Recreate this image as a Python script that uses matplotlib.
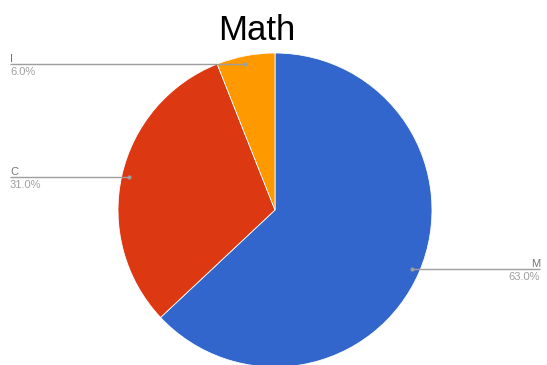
import numpy as np
import matplotlib.pyplot as plt

# Данные
labels = ["M", "C", "I"]
values = [63.0, 31.0, 6.0]
colors = ["#3366CC", "#DC3912", "#FF9900"]

W, H = 547, 365
cx, cy, r = 275, H - 210, 157

fig = plt.figure(figsize=(W / 100, H / 100), dpi=100)
ax = fig.add_axes([0, 0, 1, 1])

wedges, _ = ax.pie(values, colors=colors, startangle=90, counterclock=False,
                   center=(cx, cy), radius=r, frame=True,
                   wedgeprops=dict(edgecolor="white", linewidth=0.6))
ax.set_xlim(0, W)
ax.set_ylim(0, H)
ax.set_aspect("equal")
ax.set_axis_off()

font = "Liberation Sans"
ax.text(257, H - 40, "Math", fontsize=25, family=font, ha="center", va="baseline")

# Подписи с выносками
top_limit = H - 64
rr = 0.95 * r
total = sum(values)
for w, lab, v in zip(wedges, labels, values):
    th = np.deg2rad((w.theta1 + w.theta2) / 2)
    px, py = cx + rr * np.cos(th), cy + rr * np.sin(th)
    if py > top_limit:
        # прижимаем подпись к верху, точку ставим на той же окружности
        py = top_limit
        dx = np.sqrt(rr ** 2 - (py - cy) ** 2)
        px = cx + np.sign(np.cos(th)) * dx
    pct = f"{100 * v / total:.1f}%"
    if px < cx:
        x0, x1, tx, ha = 10, px, 10, "left"
    else:
        x0, x1, tx, ha = px, 540, 540, "right"
    ax.plot([x0, x1], [py, py], color="#9e9e9e", lw=1, solid_capstyle="butt")
    ax.plot(px, py, "o", ms=3, color="#9e9e9e", mec="none")
    ax.text(tx, py + 2.5, lab, fontsize=8, family=font, color="#757575",
            ha=ha, va="baseline")
    ax.text(tx, py - 3, pct, fontsize=8, family=font, color="#a0a0a0",
            ha=ha, va="top")

fig.savefig("out.png", dpi=100)
